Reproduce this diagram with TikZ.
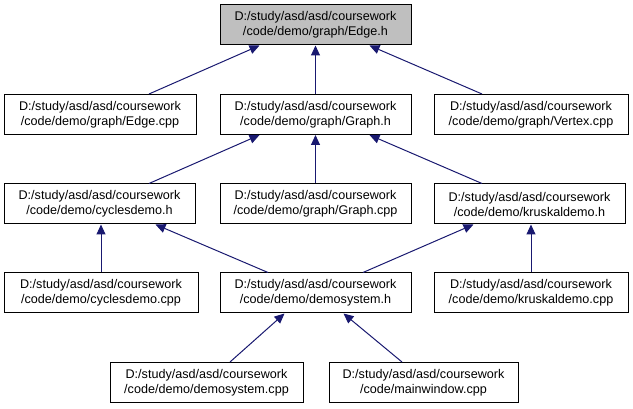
\documentclass[tikz,border=0pt]{standalone}
\usepackage{fontspec}
\setmainfont{Liberation Sans}
\usetikzlibrary{arrows.meta,calc}
\definecolor{edgeblue}{HTML}{191970}
\definecolor{boxgray}{HTML}{BFBFBF}
\begin{document}
\begin{tikzpicture}[x=1pt,y=-1pt,
  filebox/.style={draw=black,line width=1pt,fill=white,minimum height=40pt,inner sep=0pt,align=center,
    font=\fontsize{12.6}{15}\selectfont},
  arr/.style={draw=edgeblue,line width=1pt,{Triangle[length=10pt,width=9pt,fill=edgeblue]}-},
]
\useasboundingbox (0,0) rectangle (633,409);
% row 1
\node[filebox,fill=boxgray,minimum width=191pt] (edgeh) at (315.5,25) {D:/study/asd/asd/coursework\\/code/demo/graph/Edge.h};
% row 2
\node[filebox,minimum width=192pt] (edgecpp) at (100,114.5) {D:/study/asd/asd/coursework\\/code/demo/graph/Edge.cpp};
\node[filebox,minimum width=191pt] (graphh) at (315.5,114.5) {D:/study/asd/asd/coursework\\/code/demo/graph/Graph.h};
\node[filebox,minimum width=194pt] (vertexcpp) at (531,114.5) {D:/study/asd/asd/coursework\\/code/demo/graph/Vertex.cpp};
% row 3
\node[filebox,minimum width=191pt] (cyclesh) at (99.5,204) {D:/study/asd/asd/coursework\\/code/demo/cyclesdemo.h};
\node[filebox,minimum width=191pt] (graphcpp) at (315.5,204) {D:/study/asd/asd/coursework\\/code/demo/graph/Graph.cpp};
\node[filebox,minimum width=191pt] (kruskalh) at (529.5,204) {D:/study/asd/asd/coursework\\/code/demo/kruskaldemo.h};
% row 4
\node[filebox,minimum width=194pt] (cyclescpp) at (101,293) {D:/study/asd/asd/coursework\\/code/demo/cyclesdemo.cpp};
\node[filebox,minimum width=191pt] (demoh) at (315.5,293) {D:/study/asd/asd/coursework\\/code/demo/demosystem.h};
\node[filebox,minimum width=194pt] (kruskalcpp) at (531,293) {D:/study/asd/asd/coursework\\/code/demo/kruskaldemo.cpp};
% row 5
\node[filebox,minimum width=193pt] (democpp) at (206.5,382.5) {D:/study/asd/asd/coursework\\/code/demo/demosystem.cpp};
\node[filebox,minimum width=189pt] (mainwin) at (423.5,382.5) {D:/study/asd/asd/coursework\\/code/mainwindow.cpp};
% edges (arrow head at the included file)
\draw[arr] ($(edgeh.south)+(-56,0)$) -- ($(edgecpp.north)+(49,0)$);
\draw[arr] (edgeh) -- (graphh);
\draw[arr] ($(edgeh.south)+(54,0)$) -- ($(vertexcpp.north)+(-49,0)$);
\draw[arr] ($(graphh.south)+(-56,0)$) -- ($(cyclesh.north)+(49.5,0)$);
\draw[arr] (graphh) -- (graphcpp);
\draw[arr] ($(graphh.south)+(54,0)$) -- ($(kruskalh.north)+(-47.5,0)$);
\draw[arr] (cyclesh.south -| cyclescpp.north) -- (cyclescpp.north);
\draw[arr] ($(cyclesh.south)+(56,0)$) -- ($(demoh.north)+(-47.5,0)$);
\draw[arr] ($(kruskalh.south)+(-56,0)$) -- ($(demoh.north)+(47.5,0)$);
\draw[arr] (kruskalh.south -| kruskalcpp.north) -- (kruskalcpp.north);
\draw[arr] ($(demoh.south)+(-31,0)$) -- ($(democpp.north)+(23.5,0)$);
\draw[arr] ($(demoh.south)+(28,0)$) -- ($(mainwin.north)+(-21.5,0)$);
\end{tikzpicture}
\end{document}
